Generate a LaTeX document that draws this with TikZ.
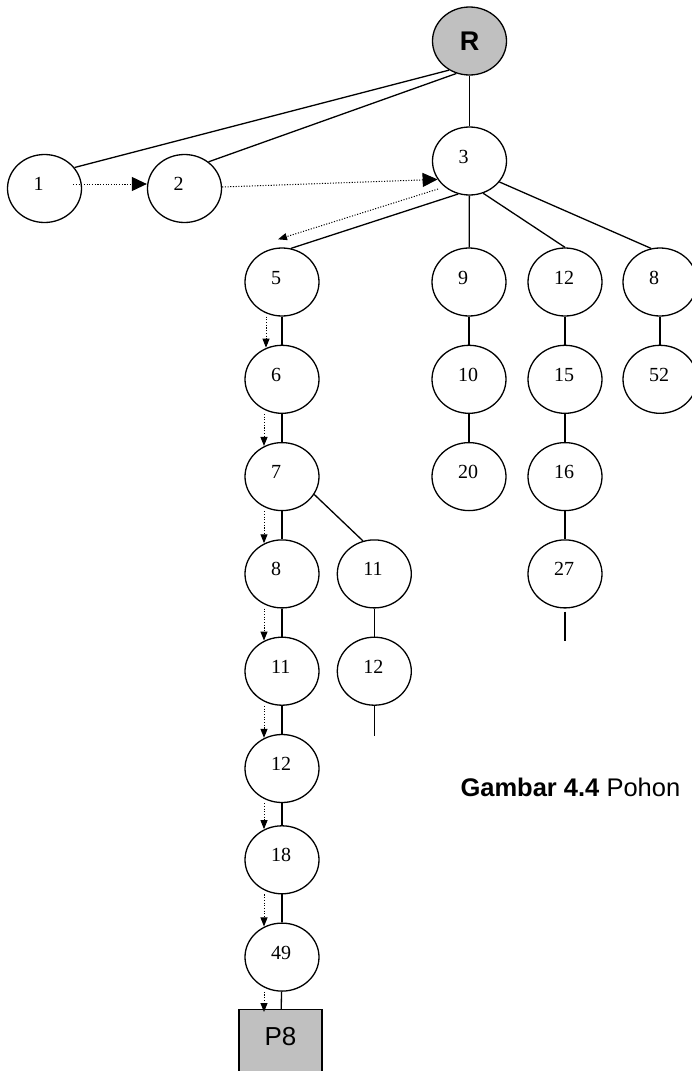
\documentclass[tikz,border=0pt]{standalone}
\usepackage{fontspec}
\setmainfont{Liberation Serif}
\setsansfont{Liberation Sans}
\usetikzlibrary{arrows.meta,positioning,shapes.geometric}
\definecolor{boxgray}{RGB}{192,192,192}
\tikzset{
nd/.style={
  ellipse,
  draw=black,
  line width=1.3pt,
  minimum width=74pt,
  minimum height=68pt,
  inner sep=0pt,
  text width=22pt,
  align=left,
  text height=14pt,
  text depth=10pt,
  font=\fontsize{20}{24}\selectfont
  },
rootnd/.style={
  ellipse,
  draw=black,
  fill=boxgray,
  line width=1.3pt,
  minimum width=74pt,
  minimum height=68pt,
  inner sep=0pt,
  font=\sffamily\bfseries\fontsize{27}{31}\selectfont
  },
leafbox/.style={
  rectangle,
  draw=black,
  fill=boxgray,
  line width=1.3pt,
  minimum width=83pt,
  inner xsep=0pt,
  inner ysep=17pt,
  text height=19pt,
  text depth=50pt,
  font=\sffamily\fontsize{26}{30}\selectfont
  }
}
\tikzset{
  link/.style={line width=1.3pt},
  trav/.style={line width=1pt, dash pattern=on 1.1pt off 1.6pt},
  bigtip/.style={-{Triangle[length=15pt,width=14pt]}},
  smalltip/.style={-{Triangle[length=9pt,width=7pt]}}
}

\begin{document}
\begin{tikzpicture}[x=1pt,y=1pt,node distance=28pt]
\useasboundingbox (0,0) rectangle (692,-1071);
\clip (0,0) rectangle (692,-1071);

% first levels
\node[rootnd] (r) at (469.5,-41) {R};
\node[nd] (n1) at (44.5,-188.5) {1};
\node[nd] (n2) at (184.5,-188.5) {2};
\node[nd] (n3) at (469.5,-161) {3};

\node[nd] (n5) at (282,-282) {5};
\node[nd] (n9) at (469,-282) {9};
\node[nd] (n12c) at (565,-282) {12};
\node[nd] (n8c) at (660,-282) {8};

% main path
\node[nd,below=of n5] (n6) {6};
\node[nd,below=of n6] (n7) {7};
\node[nd,below=of n7] (n8a) {8};
\node[nd,below=of n8a] (n11a) {11};
\node[nd,below=of n11a] (n12a) {12};
\node[nd,below=22pt of n12a] (n18) {18};
\node[nd,below=of n18] (n49) {49};
\node[leafbox,anchor=north] (p8) at (280.5,-1009) {P8};

% side branches
\node[nd,right=17pt of n8a] (n11b) {11};
\node[nd,below=of n11b] (n12b) {12};
\node[nd,below=of n9] (n10) {10};
\node[nd,below=of n10] (n20) {20};
\node[nd,below=of n12c] (n15) {15};
\node[nd,below=of n15] (n16) {16};
\node[nd,below=of n16] (n27) {27};
\node[nd,below=of n8c] (n52) {52};

\coordinate (t12b) at ([yshift=-30pt]n12b.south);
\coordinate (s27) at ([yshift=-3pt]n27.south);
\coordinate (t27) at ([yshift=-32pt]n27.south);

% tree lines
\draw[link] (r.235) -- (n1.35);
\draw[link] (r.248) -- (n2.48);
\draw[link] (r) -- (n3);
\draw[link] (n3.251) -- (n5.75);
\draw[link] (n3) -- (n9);
\draw[link] (n3.293) -- (n12c.north);
\draw[link] (n3.325) -- (n8c.105);

\draw[link] (n5) -- (n6);
\draw[link] (n6) -- (n7);
\draw[link] (n7) -- (n8a);
\draw[link] (n7.331) -- (n11b.109);
\draw[link] (n8a) -- (n11a);
\draw[link] (n11a) -- (n12a);
\draw[link] (n12a) -- (n18);
\draw[link] (n18) -- (n49);
\draw[link] (n49) -- (p8);
\draw[link] (n11b) -- (n12b);
\draw[link] (n12b) -- (t12b);

\draw[link] (n9) -- (n10);
\draw[link] (n10) -- (n20);
\draw[link] (n12c) -- (n15);
\draw[link] (n15) -- (n16);
\draw[link] (n16) -- (n27);
\draw[link] (s27) -- (t27);
\draw[link] (n8c) -- (n52);

% search order
\draw[trav,bigtip] ([xshift=-9pt,yshift=4.5pt]n1.east) -- ([yshift=4.5pt]n2.west);
\draw[trav,bigtip] ([yshift=1.5pt]n2.east) -- (n3.210);
\draw[trav,smalltip] ([shift={(-31.5pt,-28pt)}]n3.center) -- ([shift={(-4pt,8pt)}]n5.north);

\draw[trav,smalltip] ([xshift=-16pt]n5.south) -- ([xshift=-16pt,yshift=-3pt]n6.north);
\draw[trav,smalltip] ([xshift=-18pt]n6.south) -- ([xshift=-18pt,yshift=-4pt]n7.north);
\draw[trav,smalltip] ([xshift=-18pt]n7.south) -- ([xshift=-18pt,yshift=-4pt]n8a.north);
\draw[trav,smalltip] ([xshift=-18pt]n8a.south) -- ([xshift=-18pt,yshift=-4pt]n11a.north);
\draw[trav,smalltip] ([xshift=-18pt]n11a.south) -- ([xshift=-18pt,yshift=-4pt]n12a.north);
\draw[trav,smalltip] ([xshift=-18pt]n12a.south) -- ([xshift=-18pt,yshift=-4pt]n18.north);
\draw[trav,smalltip] ([xshift=-18pt]n18.south) -- ([xshift=-18pt,yshift=-4pt]n49.north);
\draw[trav,smalltip] ([xshift=-18pt]n49.south) -- ([xshift=-16.5pt,yshift=-3pt]p8.north);

\node[anchor=base west,font=\sffamily\fontsize{25.5}{30}\selectfont] (cap) at (457,-796) {\textbf{Gambar 4.4} Pohon};

\end{tikzpicture}
\end{document}
